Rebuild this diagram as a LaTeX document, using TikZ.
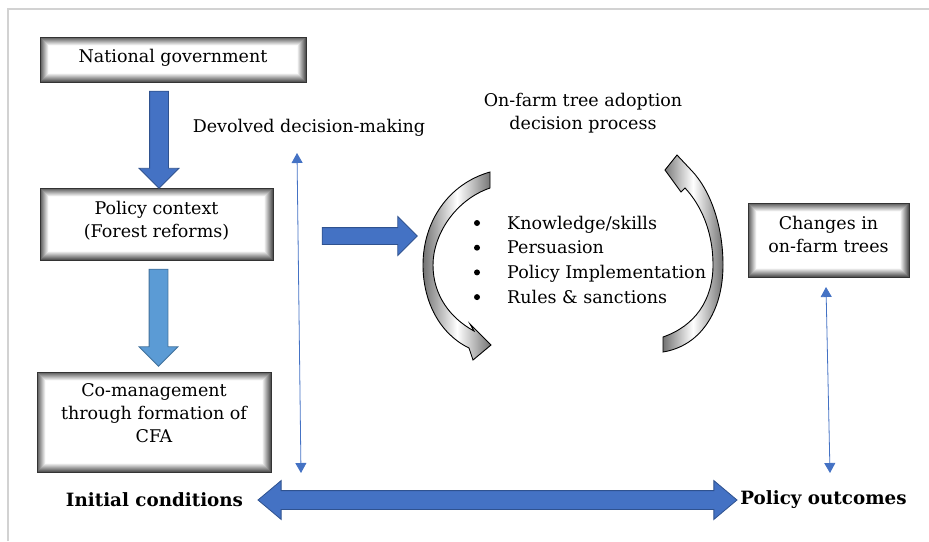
\documentclass[tikz,border=0pt]{standalone}
\usepackage{fontspec}
\setmainfont{DejaVu Serif}
\usetikzlibrary{arrows.meta, shapes.arrows, positioning, calc}
\definecolor{arrowblue}{HTML}{4472C4}
\definecolor{arrowedge}{HTML}{2F528F}
\definecolor{skyblue}{HTML}{5B9BD5}
\definecolor{skyedge}{HTML}{41719C}
\definecolor{framegray}{HTML}{D2D2D2}

\tikzset{
  % framed box with a soft grey inner shadow
  shadowbox/.style={draw=black!80, line width=1pt, align=center, inner sep=0pt,
    font=\fontsize{17.5}{23}\selectfont, text depth=11pt,
    path picture={
      \foreach \k [evaluate=\k as \c using {max(0,66-8*\k)}] in {0,...,9}
        \fill[black!\c!white] ([shift={(\k pt,-\k pt)}]path picture bounding box.north west)
          rectangle ([shift={(-\k pt,\k pt)}]path picture bounding box.south east);
    }},
  bluearrow/.style={single arrow, fill=arrowblue, draw=arrowedge, line width=0.8pt,
    inner xsep=0pt, inner ysep=9pt, single arrow head extend=10.5pt},
  thinarrow/.style={draw=arrowblue, line width=0.8pt,
    {Triangle[length=10pt,width=11pt]}-{Triangle[length=10pt,width=11pt]}},
  loop/.style={draw=black, line width=0.9pt, left color=black!55, right color=black!55,
    middle color=white},
  plain/.style={font=\fontsize{17.5}{23}\selectfont, align=center},
  outcome/.style={font=\fontsize{18.3}{20}\selectfont\bfseries}
}

\begin{document}
\begin{tikzpicture}[x=1pt, y=-1pt]
\useasboundingbox (0,0) rectangle (929,541);
\draw[framegray, line width=2pt] (8,541) -- (8,9) -- (929,9);

% left column
\node[shadowbox, minimum width=266pt, minimum height=45pt, text depth=8pt] (gov) at (173,59.5) {National government};
\node[shadowbox, minimum width=233pt, minimum height=72pt, text depth=10pt] (ctx) at (156.5,224) {Policy context\\(Forest reforms)};
\node[shadowbox, minimum width=234pt, minimum height=100pt, text depth=18pt] (cfa) at (154,422) {Co-management\\through formation of\\CFA};

\node[bluearrow, rotate=-90, minimum height=97pt] (down1) at (159,135) {};
\node[bluearrow, rotate=-90, minimum height=97pt, single arrow head extend=10pt,
  fill=skyblue, draw=skyedge] (down2) at (158.5,313) {};

% devolved decision-making
\node[plain] (devolved) at (309,128) {Devolved decision-making};
\coordinate (devtop) at (297,153);
\coordinate (devbot) at (301,473);
\draw[thinarrow] (devtop) -- (devbot);

\node[bluearrow, inner ysep=8pt, minimum height=95pt, single arrow head extend=11pt] (toloop) at (365.5,236) {};

% adoption process loop
\node[plain] (process) at (583,113.5) {On-farm tree adoption\\decision process};
\path[loop] (490,172) -- (490,188)
  .. controls (455,200) and (433,235) .. (433,265)
  .. controls (433,295) and (450,318) .. (474,331)
  -- (470,324) -- (491,345) -- (473,360) -- (469,348)
  .. controls (440,334) and (423,302) .. (423,265)
  .. controls (423,222) and (448,184) .. (490,172) -- cycle;
\path[loop] (663,337)
  .. controls (695,326) and (713,300) .. (713,265)
  .. controls (713,230) and (700,204) .. (685,188)
  -- (681,192) -- (665,170) -- (677,155) -- (692,171)
  .. controls (710,190) and (723,225) .. (723,265)
  .. controls (723,312) and (700,346) .. (663,352) -- cycle;

\foreach \txt [count=\i] in {Knowledge/skills, Persuasion, Policy Implementation, Rules \& sanctions} {
  \node[plain, anchor=base west, inner sep=0pt] (step\i) at (507,{229+24.7*(\i-1)}) {\txt};
  \fill (477,{223+24.7*(\i-1)}) circle (3pt);
}

% right column
\node[shadowbox, minimum width=161pt, minimum height=74pt, text depth=12pt] (chg) at (828.5,240) {Changes in\\on-farm trees};
\coordinate (chgtop) at (826,287);
\coordinate (chgbot) at (830,473);
\draw[thinarrow] (chgtop) -- (chgbot);

% bottom line
\node[outcome] (initial) at (154.5,500) {Initial conditions};
\node[outcome] (outcomes) at (823.5,500) {Policy outcomes};
\node[double arrow, fill=arrowblue, draw=arrowedge, line width=0.8pt,
  inner xsep=0pt, inner ysep=9pt, minimum height=479pt,
  double arrow head extend=10pt, double arrow tip angle=80] (span) at (497.5,500) {};
\end{tikzpicture}
\end{document}
